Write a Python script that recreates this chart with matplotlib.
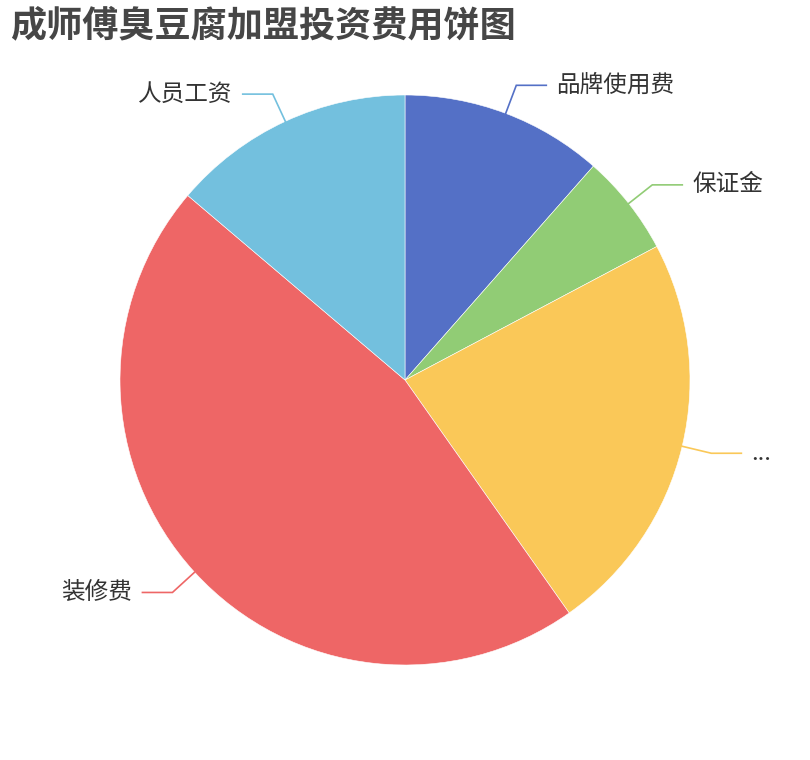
import numpy as np
import matplotlib
matplotlib.use('Agg')
import matplotlib.pyplot as plt

plt.rcParams['font.family'] = ['Noto Sans CJK SC', 'DejaVu Sans']

title = '成师傅臭豆腐加盟投资费用饼图'
labels = ['品牌使用费', '保证金', '...', '装修费', '人员工资']
values = [2, 1, 4, 8, 2.4]
colors = ['#5470c6', '#91cc75', '#fac858', '#ee6666', '#73c0de']

W, H = 810, 760
fig = plt.figure(figsize=(W / 100, H / 100), dpi=100)
ax = fig.add_axes([0, 0, 1, 1])

cx, cy, r = 405, H - 380, 285
wedges, _ = ax.pie(values, colors=colors, startangle=90, counterclock=False,
                   center=(cx, cy), radius=r, frame=True,
                   wedgeprops=dict(linewidth=0.4, edgecolor='white'))

len1, len2, gap = 30, 30, 10
for w, lab, col in zip(wedges, labels, colors):
    mid = np.deg2rad((w.theta1 + w.theta2) / 2)
    x0, y0 = cx + r * np.cos(mid), cy + r * np.sin(mid)
    x1, y1 = cx + (r + len1) * np.cos(mid), cy + (r + len1) * np.sin(mid)
    side = 1 if np.cos(mid) >= 0 else -1
    x2 = x1 + side * len2
    ax.plot([x0, x1, x2], [y0, y1, y1], color=col, lw=1.2, solid_joinstyle='miter')
    ax.text(x2 + side * gap, y1, lab, fontsize=17, color='#333333',
            ha='left' if side > 0 else 'right', va='center')

ax.text(10, H - 26, title, fontsize=26, fontweight='bold', color='#464646',
        ha='left', va='center')

ax.set_xlim(0, W)
ax.set_ylim(0, H)
ax.set_aspect('auto')
ax.axis('off')

fig.savefig('out.png', dpi=100, facecolor='white')
